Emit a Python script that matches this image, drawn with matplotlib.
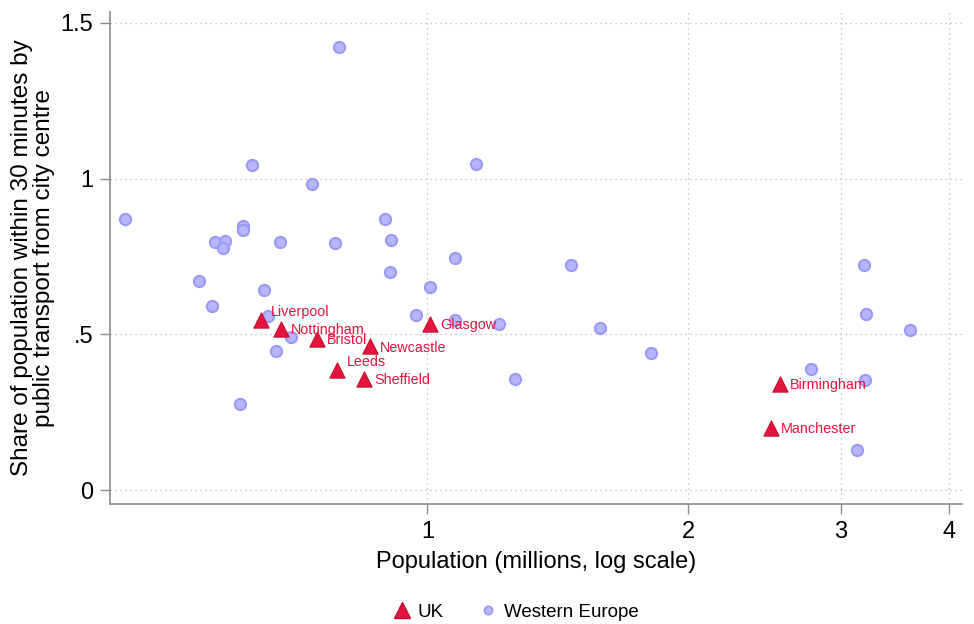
import matplotlib.pyplot as plt
from matplotlib.ticker import FixedLocator, NullLocator
from matplotlib.lines import Line2D

plt.rcParams['font.family'] = ['Liberation Sans', 'DejaVu Sans']

# UK cities: population (millions) and share reachable within 30 min
uk_cities = ["Liverpool", "Nottingham", "Bristol", "Newcastle", "Leeds",
             "Sheffield", "Glasgow", "Birmingham", "Manchester"]
uk_pop = [0.643, 0.677, 0.745, 0.858, 0.787, 0.845, 1.007, 2.555, 2.492]
uk_share = [0.546, 0.518, 0.486, 0.462, 0.385, 0.357, 0.534, 0.342, 0.201]

# Western European comparators
eu_pop = [0.448, 0.545, 0.564, 0.569, 0.584, 0.581, 0.612, 0.612, 0.607,
          0.627, 0.648, 0.655, 0.668, 0.676, 0.696, 0.735, 0.783, 0.790,
          0.894, 0.907, 0.906, 0.969, 1.008, 1.076, 1.076, 1.137, 1.210,
          1.261, 1.465, 1.581, 1.813, 2.769, 3.192, 3.209, 3.197, 3.133,
          3.611]
eu_share = [0.870, 0.671, 0.591, 0.795, 0.801, 0.777, 0.848, 0.836, 0.277,
            1.043, 0.642, 0.559, 0.446, 0.796, 0.490, 0.983, 0.792, 1.423,
            0.869, 0.804, 0.701, 0.563, 0.652, 0.744, 0.547, 1.047, 0.534,
            0.357, 0.724, 0.520, 0.441, 0.390, 0.722, 0.566, 0.353, 0.130,
            0.515]

x_ticks = [1, 2, 3, 4]
y_ticks = [0, 0.5, 1, 1.5]
y_tick_labels = ["0", ".5", "1", "1.5"]

# label offsets in points (Liverpool and Leeds sit above-right)
label_offsets = {"Liverpool": (7, 6), "Leeds": (7, 6)}

red = "#e3153f"
eu_face = "#b6b6fd"
eu_edge = "#9a9af4"

fig = plt.figure(figsize=(9.74, 6.24), dpi=100)
ax = fig.add_axes([0.113, 0.192, 0.875, 0.789])

ax.scatter(eu_pop, eu_share, s=65, facecolor=eu_face, edgecolor=eu_edge,
           linewidth=1.5, zorder=3)
ax.scatter(uk_pop, uk_share, s=120, marker="^", facecolor=red,
           edgecolor="#c4102f", linewidth=0.8, zorder=4)

for name, x, y in zip(uk_cities, uk_pop, uk_share):
    dx, dy = label_offsets.get(name, (7, -1))
    ax.annotate(name, (x, y), xytext=(dx, dy), textcoords="offset points",
                ha="left", va="center", color=red, fontsize=10.4, zorder=5)

ax.set_xscale("log")
ax.set_xlim(0.430, 4.146)
ax.set_ylim(-0.045, 1.535)
ax.xaxis.set_major_locator(FixedLocator(x_ticks))
ax.xaxis.set_minor_locator(NullLocator())
ax.set_xticklabels([str(t) for t in x_ticks])
ax.set_yticks(y_ticks)
ax.set_yticklabels(y_tick_labels)

ax.grid(True, linestyle=(0, (1, 3)), color="#b8b8b8", linewidth=0.9)
ax.set_axisbelow(True)
for side in ["top", "right"]:
    ax.spines[side].set_visible(False)
for side in ["left", "bottom"]:
    ax.spines[side].set_color("#8c8c8c")
    ax.spines[side].set_linewidth(1.2)
ax.tick_params(axis="both", length=7, width=1, color="#8c8c8c",
               labelsize=17, pad=5)

ax.set_xlabel("Population (millions, log scale)", fontsize=17, labelpad=6)
ax.set_ylabel("Share of population within 30 minutes by\npublic transport from city centre",
              fontsize=17.5, labelpad=4, linespacing=1.0)

handles = [
    Line2D([], [], marker="^", linestyle="", markersize=11,
           markerfacecolor=red, markeredgecolor="#c4102f"),
    Line2D([], [], marker="o", linestyle="", markersize=6,
           markerfacecolor=eu_face, markeredgecolor=eu_edge, markeredgewidth=1.2),
]
fig.legend(handles, ["UK", "Western Europe"], loc="center",
           bbox_to_anchor=(0.527, 0.019), ncol=2, frameon=False,
           fontsize=13.5, handletextpad=0.1, columnspacing=1.6,
           handlelength=1.5)

plt.savefig("out.png", dpi=100)
